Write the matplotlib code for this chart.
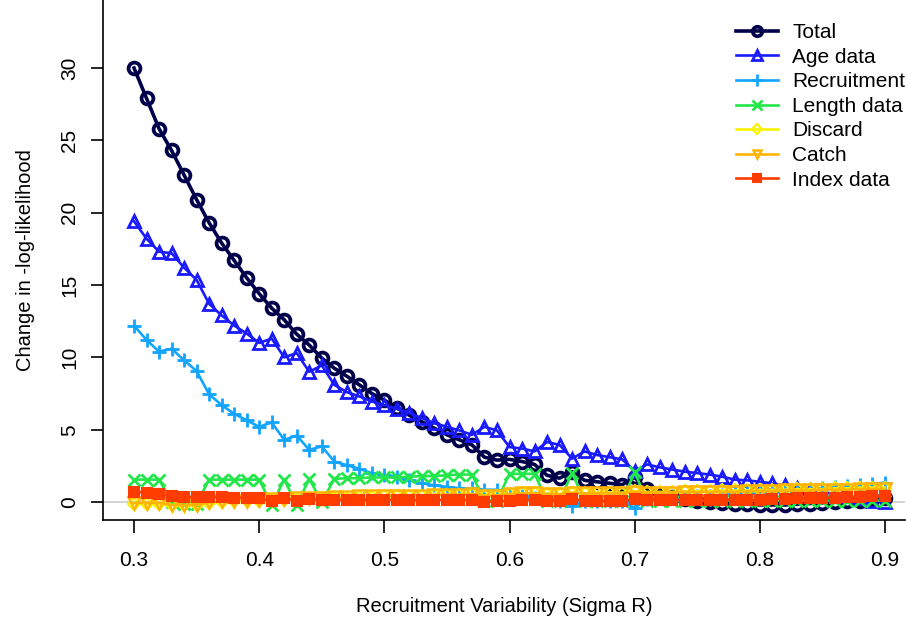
import matplotlib
matplotlib.use('Agg')
from matplotlib import pyplot as plt
import numpy as np

plt.rcParams['font.family'] = ['Liberation Sans', 'DejaVu Sans']

sigma_r = np.round(np.linspace(0.3, 0.9, 61), 2)

total = [30.0, 27.9, 25.8, 24.3, 22.6, 20.9, 19.3, 17.9, 16.7, 15.5,
         14.4, 13.4, 12.6, 11.6, 10.85, 9.95, 9.25, 8.7, 8.1, 7.5,
         7.05, 6.5, 6.0, 5.55, 5.1, 4.65, 4.3, 3.95, 3.1, 2.9,
         2.95, 2.8, 2.6, 1.85, 1.65, 2.1, 1.5, 1.4, 1.3, 1.2,
         1.7, 0.9, 0.5, 0.35, 0.2, 0.1, 0.0, -0.05, -0.1, -0.15,
         -0.2, -0.2, -0.2, -0.15, -0.1, -0.05, 0.0, 0.05, 0.1, 0.2,
         0.3]
age = [19.4, 18.2, 17.3, 17.2, 16.2, 15.35, 13.7, 12.9, 12.2, 11.65,
       11.0, 11.3, 10.0, 10.3, 9.0, 9.45, 8.1, 7.6, 7.3, 6.95,
       6.7, 6.45, 6.15, 5.8, 5.45, 5.2, 4.95, 4.65, 5.2, 4.95,
       3.8, 3.7, 3.5, 4.15, 3.95, 3.0, 3.5, 3.25, 3.1, 2.95,
       2.15, 2.6, 2.4, 2.25, 2.1, 2.0, 1.9, 1.75, 1.55, 1.5,
       1.4, 1.3, 1.15, 1.0, 0.85, 0.7, 0.55, 0.4, 0.25, 0.1,
       0.0]
recruitment = [12.2, 11.2, 10.4, 10.6, 9.8, 9.05, 7.45, 6.7, 6.1, 5.65,
               5.2, 5.5, 4.3, 4.6, 3.6, 3.85, 2.8, 2.55, 2.3, 2.0,
               1.85, 1.75, 1.5, 1.3, 1.15, 1.05, 0.95, 0.95, 0.85, 0.85,
               0.5, 0.4, 0.3, 0.2, 0.1, -0.3, 0.1, 0.1, 0.1, 0.05,
               -0.4, 0.2, 0.25, 0.3, 0.35, 0.4, 0.45, 0.5, 0.55, 0.6,
               0.65, 0.7, 0.75, 0.85, 0.9, 0.95, 1.05, 1.1, 1.15, 1.25,
               1.35]
length = [1.55, 1.55, 1.55, 0.0, -0.1, -0.1, 1.55, 1.55, 1.55, 1.55,
          1.55, -0.2, 1.55, -0.2, 1.6, 0.0, 1.6, 1.65, 1.65, 1.7,
          1.7, 1.7, 1.75, 1.8, 1.8, 1.85, 1.9, 1.9, 0.1, 0.1,
          1.95, 1.95, 1.95, 0.1, 0.1, 2.0, 0.1, 0.1, 0.1, 0.1,
          2.05, 0.1, 0.1, 0.1, 0.1, 0.1, 0.1, 0.1, 0.1, 0.1,
          0.1, 0.1, 0.1, 0.1, 0.1, 0.1, 0.1, 0.1, 0.1, 0.1,
          0.1]
discard = [-0.1, -0.1, -0.1, -0.2, -0.2, -0.2, -0.05, 0.0, 0.05, 0.05,
           0.1, 0.15, 0.15, 0.2, 0.25, 0.25, 0.3, 0.3, 0.35, 0.35,
           0.4, 0.4, 0.45, 0.45, 0.5, 0.5, 0.5, 0.55, 0.45, 0.45,
           0.55, 0.6, 0.6, 0.55, 0.55, 0.65, 0.6, 0.65, 0.65, 0.65,
           0.75, 0.7, 0.7, 0.7, 0.75, 0.75, 0.75, 0.8, 0.8, 0.8,
           0.85, 0.85, 0.85, 0.9, 0.9, 0.9, 0.95, 0.95, 1.0, 1.0,
           1.0]
catch = [-0.05, -0.05, -0.05, -0.2, -0.2, -0.2, 0.0, 0.05, 0.1, 0.1,
         0.15, 0.2, 0.2, 0.25, 0.3, 0.3, 0.35, 0.35, 0.4, 0.4,
         0.4, 0.45, 0.45, 0.45, 0.5, 0.5, 0.5, 0.55, 0.45, 0.45,
         0.55, 0.6, 0.6, 0.55, 0.55, 0.65, 0.6, 0.6, 0.6, 0.6,
         0.7, 0.65, 0.65, 0.65, 0.7, 0.7, 0.7, 0.7, 0.7, 0.75,
         0.75, 0.75, 0.8, 0.8, 0.8, 0.85, 0.85, 0.85, 0.9, 0.9,
         0.9]
index = [0.7, 0.65, 0.55, 0.4, 0.35, 0.35, 0.35, 0.35, 0.3, 0.3,
         0.25, 0.1, 0.25, 0.1, 0.2, 0.15, 0.15, 0.15, 0.15, 0.15,
         0.15, 0.15, 0.15, 0.15, 0.15, 0.15, 0.15, 0.15, 0.0, 0.05,
         0.1, 0.15, 0.15, 0.1, 0.1, 0.2, 0.1, 0.1, 0.1, 0.1,
         0.2, 0.15, 0.15, 0.15, 0.15, 0.15, 0.15, 0.15, 0.15, 0.15,
         0.15, 0.2, 0.2, 0.25, 0.25, 0.3, 0.3, 0.35, 0.35, 0.4,
         0.4]

# name, values, colour, marker, filled, line width, marker size, edge width
series = [
    ('Total', total, '#00004a', 'o', False, 2.6, 8.5, 2.7),
    ('Age data', age, '#1a1aff', '^', False, 1.9, 8.5, 2.0),
    ('Recruitment', recruitment, '#12a4ff', '+', False, 1.9, 10, 2.0),
    ('Length data', length, '#22e64a', 'x', False, 1.9, 9, 2.0),
    ('Discard', discard, '#f8f400', 'D', False, 1.9, 6, 1.6),
    ('Catch', catch, '#ffb400', 'v', False, 1.9, 8, 1.8),
    ('Index data', index, '#ff3c00', 's', True, 1.9, 6.5, 1.5),
]

fig = plt.figure(figsize=(9.06, 6.23), dpi=100)
ax = fig.add_axes([103/906, 103/623, 802/906, 520/623])

ax.axhline(0, color='#cccccc', lw=1.2, zorder=0)

for name, vals, col, mk, filled, lw, ms, mew in series:
    ax.plot(sigma_r, vals, color=col, lw=lw, marker=mk, markersize=ms,
            markeredgewidth=mew,
            markerfacecolor=col if filled else 'none',
            label=name)

ax.set_xlim(0.2752, 0.916)
ax.set_ylim(-1.24, 34.7)
ax.set_xticks([0.3, 0.4, 0.5, 0.6, 0.7, 0.8, 0.9])
ax.set_xticklabels(['0.3', '0.4', '0.5', '0.6', '0.7', '0.8', '0.9'])
ax.set_yticks([0, 5, 10, 15, 20, 25, 30])
ax.tick_params(axis='both', labelsize=15, length=9, width=1.2)
ax.tick_params(axis='x', pad=13)
ax.tick_params(axis='y', pad=8)
for lab in ax.get_yticklabels():
    lab.set_rotation(90)
    lab.set_va('center')
ax.spines['top'].set_visible(False)
ax.spines['right'].set_visible(False)
ax.spines['left'].set_linewidth(1.2)
ax.spines['bottom'].set_linewidth(1.2)

ax.set_xlabel('Recruitment Variability (Sigma R)', fontsize=14.5, labelpad=20)
ax.set_ylabel('Change in -log-likelihood', fontsize=14.5, labelpad=18)

ax.legend(loc='upper left', bbox_to_anchor=(736/906, 1 - 23/623),
          bbox_transform=fig.transFigure, frameon=False, fontsize=15,
          handlelength=2.0, handletextpad=0.7, labelspacing=0.27,
          borderpad=0, borderaxespad=0, markerscale=0.8)

fig.savefig('out.png', dpi=100)
